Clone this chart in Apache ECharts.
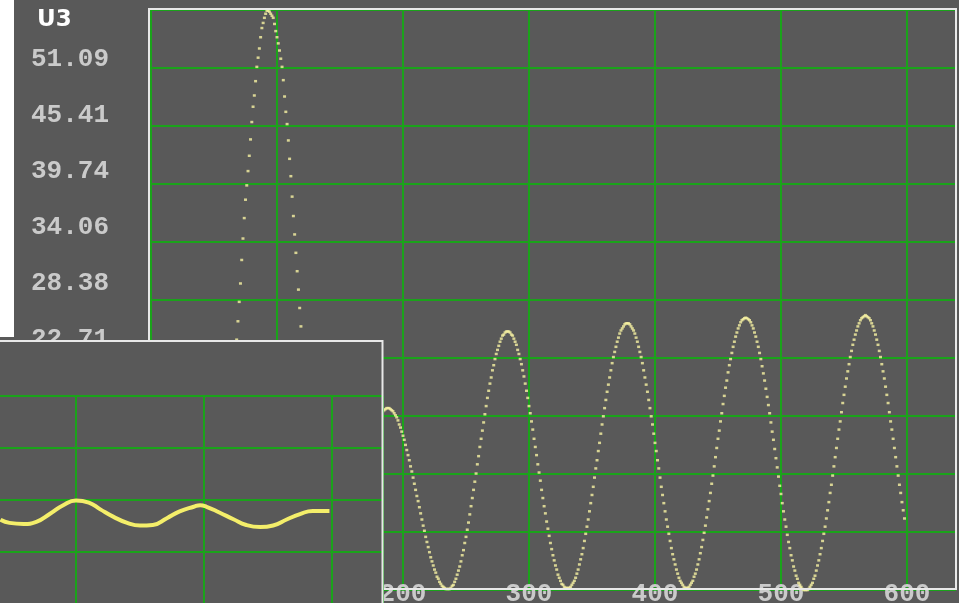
<!DOCTYPE html>
<html>
<head>
<meta charset="utf-8">
<title>U3</title>
<script src="https://cdn.jsdelivr.net/npm/echarts@6.0.0/dist/echarts.min.js"></script>
<style>
  html, body { margin: 0; padding: 0; background: #595959; }
  #chart { width: 959px; height: 603px; }
</style>
</head>
<body>
<div id="chart"></div>
<script>
// U3 trace, one sample per x step, first sample at u3Start
var u3Start = 64
var u3Samples = [
  16.8, 18.6, 20.5, 22.5, 24.5, 26.3, 28.2, 30.0, 32.3, 34.4,
  36.4, 38.2, 39.6, 41.0, 42.5, 44.1, 45.8, 47.3, 48.4, 49.8,
  51.2, 52.1, 53.0, 54.1, 55.0, 55.5, 56.0, 56.4, 56.7, 56.7,
  56.6, 56.4, 56.2, 56.0, 55.4, 54.7, 54.1, 53.5, 52.8, 52.0,
  51.2, 49.9, 48.3, 46.8, 45.6, 44.0, 42.2, 40.5, 38.5, 36.6,
  34.8, 33.0, 31.2, 29.4, 27.6, 25.8, 24.0, 22.2, 20.4, 18.6,
  16.8, 15.0,
  13.3, 11.6, 10.0, 8.5, 7.1, 5.8, 4.6, 3.6, 2.7, 1.9, 1.3, 0.8, 0.5, 0.3, 0.2, 0.2,
  0.2, 0.3, 0.4, 0.5, 0.7, 0.9, 1.1, 1.4, 1.7, 2.1,
  2.5, 2.9, 3.3, 3.8, 4.3, 4.8, 5.3, 5.8, 6.4, 7.0,
  7.5, 8.1, 8.7, 9.3, 9.9, 10.5, 11.0, 11.6, 12.2, 12.7,
  13.2, 13.7, 14.2, 14.7, 15.1, 15.5, 15.9, 16.3, 16.6, 16.9,
  17.1, 17.3, 17.5, 17.6, 17.7, 17.8,
  17.8, 17.8, 17.7, 17.6, 17.5, 17.3, 17.1, 16.9, 16.6, 16.2,
  15.9, 15.5, 15.1, 14.7, 14.2, 13.7, 13.2, 12.7, 12.1, 11.6,
  11.0, 10.4, 9.8, 9.2, 8.7, 8.1, 7.5, 6.9, 6.3, 5.8,
  5.2, 4.7, 4.2, 3.7, 3.2, 2.8, 2.4, 2.0, 1.7, 1.3,
  1.1, 0.8, 0.6, 0.4, 0.3, 0.2, 0.1, 0.1, 0.1,
  0.1, 0.2, 0.4, 0.5, 0.8, 1.1, 1.5, 1.9, 2.3, 2.8,
  3.4, 3.9, 4.6, 5.2, 5.9, 6.6, 7.4, 8.2, 9.0, 9.8,
  10.6, 11.4, 12.3, 13.1, 14.0, 14.8, 15.6, 16.4, 17.2, 18.0,
  18.8, 19.5, 20.2, 20.8, 21.5, 22.0, 22.6, 23.1, 23.5, 23.9,
  24.3, 24.6, 24.9, 25.0, 25.2, 25.3, 25.3,
  25.3, 25.2, 25.0, 24.9, 24.6, 24.3, 24.0, 23.5, 23.1, 22.6,
  22.1, 21.5, 20.9, 20.2, 19.5, 18.8, 18.0, 17.3, 16.5, 15.7,
  14.8, 14.0, 13.2, 12.3, 11.5, 10.7, 9.8, 9.0, 8.2, 7.5,
  6.7, 6.0, 5.3, 4.6, 4.0, 3.4, 2.9, 2.4, 2.0, 1.5,
  1.2, 0.9, 0.6, 0.5, 0.3, 0.2, 0.2, 0.2,
  0.2, 0.3, 0.5, 0.7, 0.9, 1.2, 1.6, 2.0, 2.5, 3.0,
  3.5, 4.1, 4.8, 5.5, 6.2, 6.9, 7.7, 8.5, 9.3, 10.1,
  11.0, 11.9, 12.7, 13.6, 14.4, 15.3, 16.2, 17.0, 17.8, 18.6,
  19.4, 20.1, 20.8, 21.5, 22.2, 22.8, 23.3, 23.8, 24.3, 24.7,
  25.1, 25.4, 25.6, 25.8, 26.0, 26.1, 26.1,
  26.1, 26.0, 25.8, 25.6, 25.4, 25.1, 24.7, 24.3, 23.8, 23.3,
  22.8, 22.2, 21.5, 20.8, 20.1, 19.4, 18.6, 17.8, 17.0, 16.2,
  15.3, 14.4, 13.6, 12.7, 11.9, 11.0, 10.1, 9.3, 8.5, 7.7,
  6.9, 6.2, 5.5, 4.8, 4.1, 3.5, 3.0, 2.5, 2.0, 1.6,
  1.2, 0.9, 0.7, 0.5, 0.3, 0.2,
  0.2, 0.2, 0.3, 0.5, 0.7, 0.9, 1.3, 1.6, 2.0, 2.5,
  3.0, 3.6, 4.2, 4.9, 5.6, 6.3, 7.1, 7.9, 8.7, 9.5,
  10.4, 11.2, 12.1, 13.0, 13.9, 14.8, 15.6, 16.5, 17.3, 18.2,
  19.0, 19.8, 20.5, 21.3, 22.0, 22.6, 23.2, 23.8, 24.3, 24.8,
  25.2, 25.6, 25.9, 26.2, 26.4, 26.5, 26.6, 26.65,
  26.6, 26.5, 26.4, 26.2, 25.9, 25.6, 25.2, 24.8, 24.3, 23.8,
  23.2, 22.6, 21.9, 21.2, 20.5, 19.7, 18.9, 18.1, 17.3, 16.4,
  15.5, 14.7, 13.8, 12.9, 12.0, 11.1, 10.2, 9.4, 8.5, 7.7,
  6.9, 6.2, 5.4, 4.7, 4.1, 3.4, 2.9, 2.3, 1.9, 1.4,
  1.1, 0.7, 0.5, 0.3, 0.1, 0.0, 0.0,
  0.0, 0.0, 0.1, 0.3, 0.5, 0.7, 1.1, 1.4, 1.9, 2.4,
  2.9, 3.5, 4.1, 4.8, 5.5, 6.2, 7.0, 7.8, 8.6, 9.5,
  10.3, 11.2, 12.1, 13.0, 13.9, 14.8, 15.7, 16.5, 17.4, 18.3,
  19.1, 19.9, 20.7, 21.4, 22.1, 22.8, 23.4, 24.0, 24.5, 25.0,
  25.4, 25.8, 26.1, 26.4, 26.6, 26.7, 26.8, 26.9,
  26.8, 26.7, 26.6, 26.4, 26.1, 25.8, 25.4, 25.0, 24.5, 24.0,
  23.4, 22.8, 22.1, 21.4, 20.7, 19.9, 19.1, 18.3, 17.4, 16.5,
  15.7, 14.8, 13.9, 13.0, 12.1, 11.2, 10.3, 9.5, 8.6, 7.8,
  7.0
]

// y tick labels, from 0 upwards
var yTickLabels = ['0.00', '5.68', '11.35', '17.03', '22.71', '28.38', '34.06', '39.74', '45.41', '51.09']

// small trace in the window in front
var insetX = [41, 48, 59, 69, 80, 90, 100, 110, 119, 129, 140, 150, 160, 171, 181, 192, 197, 202, 212, 223, 233, 244, 254, 265, 275, 285, 298]
var insetY = [1.62, 1.56, 1.54, 1.58, 1.74, 1.90, 1.99, 1.95, 1.82, 1.68, 1.56, 1.51, 1.52, 1.65, 1.78, 1.87, 1.90, 1.87, 1.76, 1.63, 1.52, 1.48, 1.51, 1.63, 1.73, 1.79, 1.79]

var bg = '#595959'
var green = '#1aa31a'
var labelColor = '#cacaca'
var borderColor = '#e8e8e8'

var u3Data = u3Samples.map(function(v, i) { return [u3Start + i, v] })
var insetData = insetX.map(function(x, i) { return [x, insetY[i]] })

var chart = echarts.init(document.getElementById('chart'))
chart.setOption({
  backgroundColor: bg,
  animation: false,
  title: {
    text: 'U3',
    left: 37,
    top: 9,
    padding: 0,
    textStyle: { color: '#ffffff', fontSize: 23, fontWeight: 'bold', fontFamily: 'DejaVu Sans' }
  },
  grid: [
    { left: 151, top: 10, width: 805, height: 580, outerBoundsMode: 'none' },
    { left: 151, top: 3.5, width: 805, height: 560, outerBoundsMode: 'none' },
    { left: -52, top: 396, width: 435, height: 208, outerBoundsMode: 'none' }
  ],
  xAxis: [
    {
      gridIndex: 0,
      type: 'value',
      min: 0,
      max: 638.9,
      interval: 100,
      axisLine: { show: false },
      axisTick: { show: false },
      splitLine: { lineStyle: { color: green, width: 2 } },
      axisLabel: {
        color: labelColor,
        fontFamily: 'Liberation Mono',
        fontWeight: 'bold',
        fontSize: 26,
        margin: -9,
        showMaxLabel: false
      }
    },
    { gridIndex: 1, type: 'value', show: false },
    {
      gridIndex: 2,
      type: 'value',
      min: 0,
      max: 339.84,
      interval: 100,
      z: 11,
      axisLine: { show: false },
      axisTick: { show: false },
      axisLabel: { show: false },
      splitLine: { lineStyle: { color: green, width: 2 } }
    }
  ],
  yAxis: [
    {
      gridIndex: 0,
      type: 'value',
      min: 0,
      max: 56.766,
      interval: 5.6766,
      axisLine: { show: false },
      axisTick: { show: false },
      axisLabel: { show: false },
      splitLine: { lineStyle: { color: green, width: 2 } }
    },
    {
      gridIndex: 1,
      type: 'value',
      min: 0,
      max: 56.766,
      interval: 5.6766,
      axisLine: { show: false },
      axisTick: { show: false },
      splitLine: { show: false },
      axisLabel: {
        color: labelColor,
        fontFamily: 'Liberation Mono',
        fontWeight: 'bold',
        fontSize: 26,
        margin: 42,
        showMaxLabel: false,
        formatter: function(value, index) {
          return yTickLabels[index] || ''
        }
      }
    },
    {
      gridIndex: 2,
      type: 'value',
      min: 0,
      max: 4,
      interval: 1,
      z: 11,
      axisLine: { show: false },
      axisTick: { show: false },
      axisLabel: { show: false },
      splitLine: { lineStyle: { color: green, width: 2 } }
    }
  ],
  graphic: [
    { type: 'rect', z: 1, silent: true, shape: { x: 0, y: 0, width: 14, height: 337 }, style: { fill: '#ffffff' } },
    { type: 'rect', z: 5, silent: true, shape: { x: 149, y: 9, width: 807, height: 580 }, style: { fill: 'none', stroke: borderColor, lineWidth: 2 } },
    { type: 'rect', z: 10, silent: true, shape: { x: -5, y: 341, width: 388, height: 270 }, style: { fill: bg } },
    { type: 'rect', z: 13, silent: true, shape: { x: -5, y: 341, width: 387.5, height: 270 }, style: { fill: 'none', stroke: borderColor, lineWidth: 2 } }
  ],
  series: [
    {
      name: 'U3',
      type: 'scatter',
      xAxisIndex: 0,
      yAxisIndex: 0,
      symbol: 'rect',
      symbolSize: [3, 2.5],
      itemStyle: { color: '#f7f3a2' },
      silent: true,
      z: 2,
      data: u3Data
    },
    {
      name: 'inset',
      type: 'line',
      xAxisIndex: 2,
      yAxisIndex: 2,
      showSymbol: false,
      smooth: true,
      lineStyle: { color: '#f4ee6a', width: 4 },
      silent: true,
      z: 12,
      data: insetData
    }
  ]
})
</script>
</body>
</html>
